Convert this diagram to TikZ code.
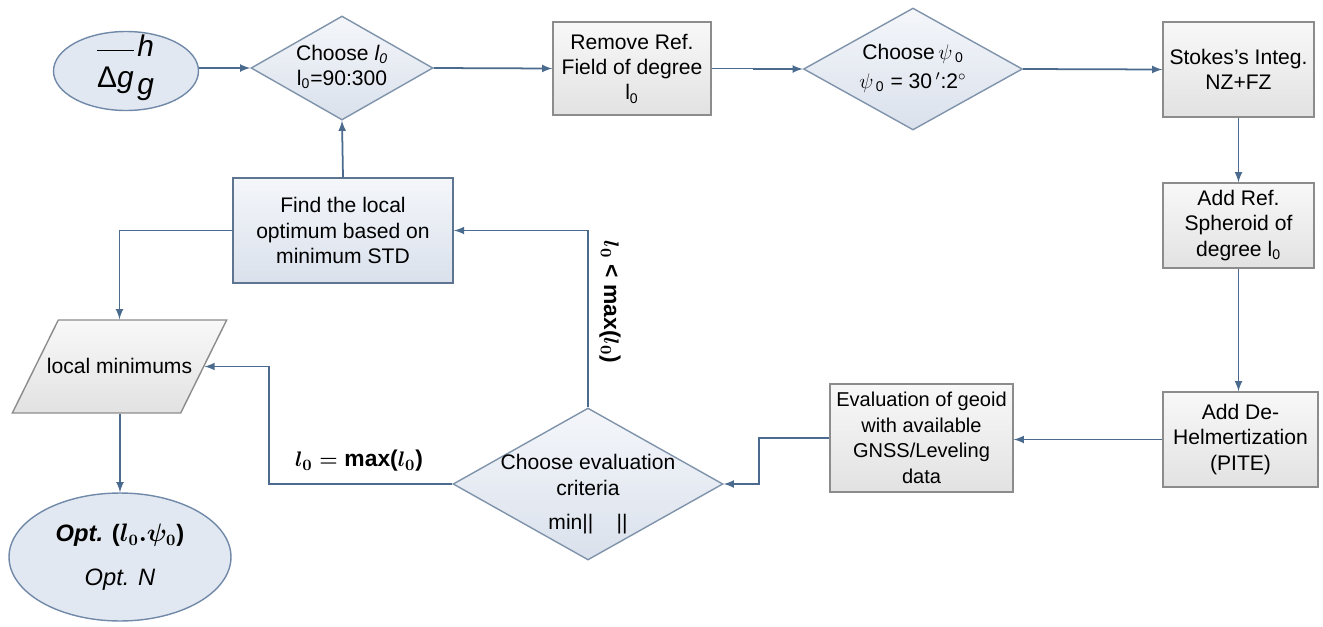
\documentclass[tikz,border=0pt]{standalone}
\usepackage{amsmath}
\usepackage{fontspec}
\setmainfont{Liberation Sans}
\usepackage{tikz}
\usetikzlibrary{arrows}
\usetikzlibrary{shapes.geometric}
\usetikzlibrary{positioning}

\definecolor{boxln}{HTML}{8C8C8C}
\definecolor{boxtop}{HTML}{F8F8F8}
\definecolor{boxbot}{HTML}{E2E2E2}
\definecolor{dialn}{HTML}{7F93AB}
\definecolor{diatop}{HTML}{F4F6FA}
\definecolor{diabot}{HTML}{DAE1EC}
\definecolor{findln}{HTML}{5E7592}
\definecolor{elln}{HTML}{7189A8}
\definecolor{ellfill}{HTML}{E2E8F1}
\definecolor{lnc}{HTML}{4A6A8E}

\begin{document}
\begin{tikzpicture}[x=0.02cm, y=-0.02cm]
\tikzstyle{txt} = [font=\fontsize{12}{14.5}\selectfont, align=center, inner sep=0pt]
\tikzstyle{blk} = [txt, rectangle, draw=boxln, line width=0.8pt, top color=boxtop, bottom color=boxbot]
\tikzstyle{dia} = [diamond, draw=dialn, line width=0.8pt, top color=diatop, bottom color=diabot, inner sep=0pt]
\tikzstyle{ell} = [ellipse, draw=elln, line width=0.8pt, fill=ellfill, inner sep=0pt]
\tikzstyle{con} = [draw=lnc, line width=1pt, -latex]
\tikzstyle{lab} = [font=\fontsize{13}{15}\selectfont\bfseries\boldmath, inner sep=0pt]

\useasboundingbox (0,0) rectangle (1323,626);

\node[ell, minimum width=2.9cm, minimum height=1.58cm] (start) at (126,71) {};
\node[txt, font=\fontsize{17}{19}\selectfont] (startt) at (126,68) {$\overline{\mbox{\rule{0pt}{1.1em}Δ\textit{g\/}}}^{\,\mbox{\textit{h}}}_{\,\mbox{\textit{g}}}$};

\node[dia, minimum width=3.64cm, minimum height=2.08cm] (ch1) at (342,68) {};
\node[txt] (ch1t) at (342,67) {Choose \textit{l\textsubscript{0}}\\l\textsubscript{0}=90:300};

\node[blk, minimum width=3.16cm, minimum height=1.86cm] (rem) at (632,68.5) {Remove Ref.\\Field of degree\\l\textsubscript{0}};

\node[dia, minimum width=4.38cm, minimum height=2.44cm] (chpsi) at (913,69) {};
\node[txt] (chpsit) at (913,68) {Choose\,$\psi$\textsubscript{\,0}\\[2pt]$\psi$\textsubscript{\,0} = 30\,$'$:2$^\circ$};

\node[blk, minimum width=3.02cm, minimum height=1.9cm] (stokes) at (1238.5,69.5) {Stokes’s Integ.\\NZ+FZ};
\node[blk, minimum width=3.02cm, minimum height=1.7cm] (addref) at (1238.5,225.5) {Add Ref.\\Spheroid of\\degree l\textsubscript{0}};
\node[blk, minimum width=3.1cm, minimum height=1.9cm] (dehelm) at (1240.5,439.5) {Add De-\\Helmertization\\(PITE)};
\node[blk, minimum width=3.66cm, minimum height=2.16cm, font=\fontsize{11.4}{14.5}\selectfont] (eval) at (921.5,438) {Evaluation of geoid\\with available\\GNSS/Leveling\\data};

\node[dia, minimum width=5.4cm, minimum height=3.04cm] (crit) at (588,484) {};
\node[txt] (critt) at (588,494) {Choose evaluation\\criteria\\[5pt]min||\hspace{1.1em}||};

\node[blk, draw=findln, line width=1.1pt, top color=diatop, bottom color=diabot, minimum width=4.4cm, minimum height=2.1cm] (find) at (343,230.5) {Find the local\\optimum based on\\minimum STD};

\node[txt, trapezium, trapezium left angle=63.7, trapezium right angle=116.3, draw=boxln, line width=0.8pt, top color=boxtop, bottom color=boxbot, text height=30.6pt, text depth=22.3pt, inner xsep=-6.5pt] (locmin) at (119.5,366.5) {local minimums};

\node[ell, align=center, font=\fontsize{13.5}{16}\selectfont, minimum width=4.44cm, minimum height=2.56cm] (opt) at (120,557) {\textbf{\textit{Opt.}} \textbf{(}{\boldmath$l_0.\psi_0$}\textbf{)}\\[9pt]\textit{Opt. N}};

\draw[con] (start.east |- ch1.west) -- (ch1.west);
\draw[con] (ch1.east) -- (rem.west);
\draw[con] (rem.east) -- ++(42,0) |- (chpsi.west);
\draw[con] (chpsi.east) -- (stokes.west);
\draw[con] (stokes.south) -- (addref.north);
\draw[con] (addref.south) -- (addref.south |- dehelm.north);
\draw[con] (dehelm.west) -- (eval.east |- dehelm.west);
\draw[con] (eval.west) -- ++(-70,0) |- (crit.east);
\draw[con] (crit.north) |- (find.east);
\draw[con] (crit.west) -- ++(-183,0) |- (locmin.east);
\draw[con] (find.north) -- (ch1.south);
\draw[con] (find.west) -| (locmin.center |- locmin.north);
\draw[con] (opt.north |- locmin.south) -- (opt.north);

\node[lab, rotate=-90] (lt) at (610,302) {$l_0$ < max($l_0$)};
\node[lab] (eq) at (359,461) {$l_0 = \mbox{max(}l_0\mbox{)}$};

\end{tikzpicture}
\end{document}
